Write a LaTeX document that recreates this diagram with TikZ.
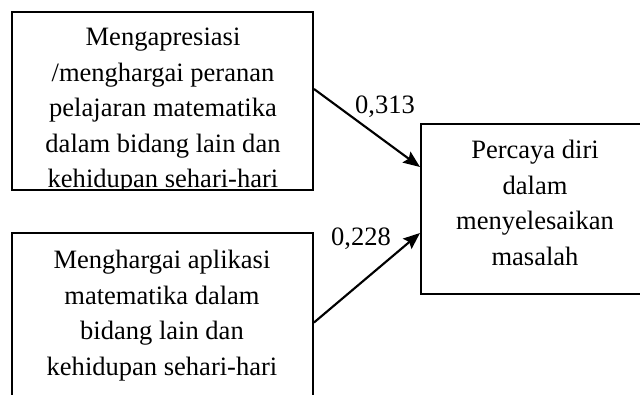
\documentclass[tikz,border=0pt]{standalone}
\usepackage{fontspec}
\setmainfont{Liberation Serif}
\usetikzlibrary{arrows.meta}
\tikzset{
  box/.style={draw, line width=1.5pt, inner sep=0pt},
  boxtext/.style={align=center, inner sep=0pt, anchor=north, font=\fontsize{19.9}{26.7}\selectfont},
  wlabel/.style={inner sep=0pt, anchor=base, font=\fontsize{19.9}{26.7}\selectfont},
  conn/.style={line width=1.6pt, -{Stealth[length=12.5pt,width=10pt,inset=2pt]}}
}
\begin{document}
\begin{tikzpicture}[x=0.75pt,y=-0.75pt]
\useasboundingbox (0,0) rectangle (640,394);
\clip (0,0) rectangle (640,394);
% box 1 text (clipped by its box)
\begin{scope}
\clip (12,12) rectangle (313,190);
\node[boxtext] (t1) at (163,27.6) {Mengapresiasi\\/menghargai peranan\\pelajaran matematika\\dalam bidang lain dan\\kehidupan sehari-hari};
\end{scope}
\node[box, minimum width=301*0.75pt, minimum height=178*0.75pt] (b1) at (162.5,101) {};
% box 2
\node[box, minimum width=301*0.75pt, minimum height=179*0.75pt] (b2) at (162.5,322.5) {};
\node[boxtext] (t2) at (162,249.9) {Menghargai aplikasi\\matematika dalam\\bidang lain dan\\kehidupan sehari-hari};
% box 3
\node[box, minimum width=228*0.75pt, minimum height=170*0.75pt] (b3) at (535,209) {};
\node[boxtext] (t3) at (535,139.9) {Percaya diri\\dalam\\menyelesaikan\\masalah};
% connectors
\coordinate (s1) at ([yshift=9pt]b1.east);
\coordinate (e1) at ([yshift=31.5pt]b3.west);
\coordinate (s2) at (b2.east);
\coordinate (e2) at ([yshift=-18pt]b3.west);
\draw[conn] (s1) -- (e1);
\draw[conn] (s2) -- (e2);
\node[wlabel] (l1) at (385,113) {0,313};
\node[wlabel] (l2) at (361,245) {0,228};
\end{tikzpicture}
\end{document}
